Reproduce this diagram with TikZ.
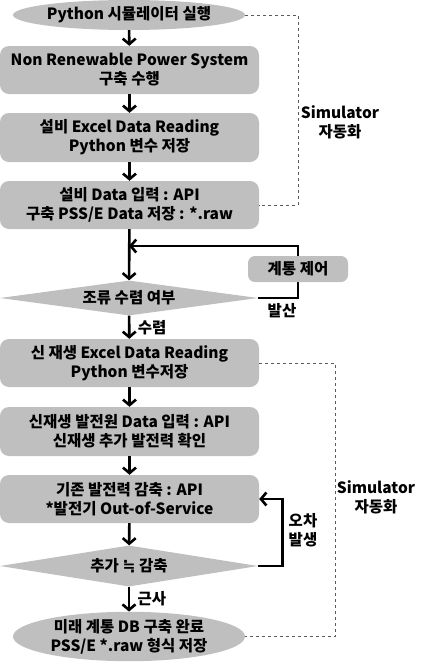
\documentclass[tikz,border=0pt]{standalone}
\usepackage{fontspec}
\setmainfont{Noto Sans CJK KR}
\newfontfamily\symfont{DejaVu Sans}
\usepackage{tikz}
\usetikzlibrary{shapes.geometric,arrows.meta,backgrounds}
\definecolor{boxgray}{RGB}{191,191,191}
\definecolor{dashgray}{RGB}{90,90,90}
\tikzset{
  procbox/.style={
    fill=boxgray,
    rounded corners=9pt,
    minimum width=259pt,
    minimum height=48pt,
    inner sep=0pt,
    align=center
  },
  termbox/.style={
    ellipse,
    fill=boxgray,
    minimum width=232pt,
    inner sep=0pt,
    align=center
  },
  decide/.style={
    diamond,
    fill=boxgray,
    minimum width=258pt,
    inner sep=0pt
  },
  ctlbox/.style={
    fill=boxgray,
    rounded corners=7pt,
    minimum width=100pt,
    minimum height=26pt,
    inner sep=0pt
  },
  flow/.style={
    line width=2.6pt,
    -{Straight Barb[length=5.5pt,width=13pt]}
  },
  autoline/.style={
    draw=dashgray,
    thin,
    dashed
  },
  every picture/.style={
    font=\bfseries\fontsize{15.5pt}{19pt}\selectfont
  }
}

\begin{document}
\begin{tikzpicture}[x=1pt,y=-1pt]
  \useasboundingbox (0,0) rectangle (424,665);
  % upper part
  \node[termbox, minimum height=30pt] (start) at (129,15) {Python 시뮬레이터 실행};
  \node[procbox] (sys) at (129.5,70) {Non Renewable Power System\\구축 수행};
  \node[procbox, minimum height=49pt] (read) at (129.5,137.5) {설비 Excel Data Reading\\Python 변수 저장};
  \node[procbox] (inp) at (129.5,205) {설비 Data 입력 : API\\구축 PSS/E Data 저장 : *.raw};
  \node[decide, aspect=7.4, minimum height=35pt] (conv) at (129,298) {조류 수렴 여부};
  \node[ctlbox] (ctl) at (298,269) {계통 제어};
  \coordinate (merge) at (129,246);
  % lower part
  \node[procbox] (newread) at (129.5,363) {신 재생 Excel Data Reading\\Python 변수저장};
  \node[procbox, minimum height=49pt] (newinp) at (129.5,431.5) {신재생 발전원 Data 입력 : API\\신재생 추가 발전력 확인};
  \node[procbox] (cut) at (129.5,499) {기존 발전력 감축 : API\\*발전기 Out-of-Service};
  \node[decide, aspect=6.3, minimum height=41pt] (cmp) at (129,566) {추가 {\symfont ≒} 감축};
  \node[termbox, minimum height=47pt] (done) at (129,636.5) {미래 계통 DB 구축 완료\\PSS/E *.raw 형식 저장};

  \draw[flow] (start) -- (sys);
  \draw[flow] (sys) -- (read);
  \draw[flow] (read) -- (inp);
  \draw[flow] (inp) -- (conv);
  \begin{scope}[on background layer]
    \draw[flow] (conv.east) -| (ctl.center) |- (merge);
  \end{scope}
  \node at (282,311) {발산};
  \draw[flow] (conv) -- node[right=4pt] {수렴} (newread);
  \draw[flow] (newread) -- (newinp);
  \draw[flow] (newinp) -- (cut);
  \draw[flow] (cut) -- (cmp);
  \draw[flow] (cmp.east) -- ++(24,0) |- (cut.east);
  \node[align=center] at (303,530) {오차\\발생};
  \draw[flow] (cmp) -- node[right=4pt] {근사} (done);

  % simulator automation
  \draw[autoline] (start.east) -- ++(53,0) |- (inp.east);
  \node[align=center] at (340,122) {Simulator\\자동화};
  \draw[autoline] (newread.east) -- ++(76,0) |- (done.east);
  \node[align=center] at (376,497) {Simulator\\자동화};
\end{tikzpicture}
\end{document}
